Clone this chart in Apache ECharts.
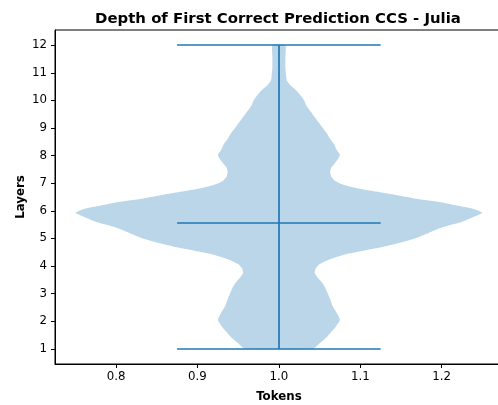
<!DOCTYPE html>
<html>
<head>
<meta charset="utf-8">
<script src="https://cdn.jsdelivr.net/npm/echarts@6/dist/echarts.min.js"></script>
<style>
  html, body { margin: 0; padding: 0; background: #fff; }
  #chart { width: 498px; height: 405px; }
</style>
</head>
<body>
<div id="chart"></div>
<script>
// Violin outline: layer positions and the half-width of the density at each one
const layerPositions = [
  1.0, 1.2, 1.4, 1.6, 1.8, 2.05, 2.3, 2.55, 2.8, 3.0, 3.2, 3.4, 3.6, 3.75, 3.9,
  4.05, 4.2, 4.3, 4.45, 4.6, 4.7, 4.82, 5.0, 5.2, 5.4, 5.6, 5.8, 5.93, 6.05,
  6.17, 6.32, 6.45, 6.55, 6.65, 6.75, 6.87, 6.99, 7.11, 7.25, 7.4, 7.55, 7.7,
  7.85, 8.02, 8.2, 8.4, 8.6, 8.8, 9.0, 9.2, 9.4, 9.6, 9.8, 10.0, 10.2, 10.4,
  10.55, 10.7, 10.85, 11.2, 11.6, 12.0
];
const halfWidths = [
  0.042, 0.050, 0.058, 0.064, 0.070, 0.075, 0.071, 0.066, 0.063, 0.060, 0.057,
  0.053, 0.047, 0.044, 0.045, 0.049, 0.059, 0.068, 0.086, 0.111, 0.129, 0.146,
  0.167, 0.184, 0.201, 0.225, 0.241, 0.250, 0.241, 0.222, 0.197, 0.166, 0.147,
  0.128, 0.108, 0.088, 0.075, 0.068, 0.064, 0.063, 0.064, 0.068, 0.072, 0.075,
  0.071, 0.068, 0.063, 0.059, 0.054, 0.049, 0.044, 0.039, 0.034, 0.031, 0.026,
  0.020, 0.014, 0.010, 0.009, 0.008, 0.008, 0.008
];
const violinCenter = 1.0;

// Summary statistics drawn as bars
const minLayer = 1;
const maxLayer = 12;
const meanLayer = 5.58;
const capHalfWidth = 0.125;

// Tick labels
const xTicks = [0.8, 0.9, 1.0, 1.1, 1.2];
const yTicks = [1, 2, 3, 4, 5, 6, 7, 8, 9, 10, 11, 12];

const BLUE = '#1f77b4';
const FONT = 'DejaVu Sans';

const chart = echarts.init(document.getElementById('chart'), null, { renderer: 'canvas' });

const statLines = [
  [[violinCenter, minLayer], [violinCenter, maxLayer]],
  [[violinCenter - capHalfWidth, minLayer], [violinCenter + capHalfWidth, minLayer]],
  [[violinCenter - capHalfWidth, maxLayer], [violinCenter + capHalfWidth, maxLayer]],
  [[violinCenter - capHalfWidth, meanLayer], [violinCenter + capHalfWidth, meanLayer]]
].map(c => ({ coords: c }));

chart.setOption({
  animation: false,
  backgroundColor: '#fff',
  title: {
    text: 'Depth of First Correct Prediction CCS - Julia',
    left: 273, top: 7, textAlign: 'center',
    textStyle: { fontFamily: FONT, fontWeight: 'bold', fontSize: 14.9, color: '#000' }
  },
  grid: {
    left: 55, top: 30, width: 447.8, height: 334,
    show: true, borderColor: '#000', borderWidth: 1, backgroundColor: 'transparent',
    containLabel: false, outerBoundsMode: 'none'
  },
  xAxis: {
    type: 'value', min: 0.725, max: 1.275,
    name: 'Tokens', nameLocation: 'middle', nameGap: 27, nameMoveOverlap: false,
    nameTextStyle: { fontFamily: FONT, fontWeight: 'bold', fontSize: 11.8, color: '#000' },
    axisLine: { show: true, onZero: false, lineStyle: { color: '#000', width: 1 } },
    axisTick: { show: true, length: 4, lineStyle: { color: '#000', width: 1 }, customValues: xTicks },
    axisLabel: {
      fontFamily: FONT, fontSize: 11.8, color: '#000', margin: 7,
      customValues: xTicks, formatter: v => v.toFixed(1)
    },
    splitLine: { show: false }
  },
  yAxis: {
    type: 'value', min: 0.45, max: 12.55,
    name: 'Layers', nameLocation: 'middle', nameGap: 28, nameRotate: 90, nameMoveOverlap: false,
    nameTextStyle: { fontFamily: FONT, fontWeight: 'bold', fontSize: 11.8, color: '#000' },
    axisLine: { show: true, onZero: false, lineStyle: { color: '#000', width: 1 } },
    axisTick: { show: true, length: 4, lineStyle: { color: '#000', width: 1 }, customValues: yTicks },
    axisLabel: {
      fontFamily: FONT, fontSize: 11.8, color: '#000', margin: 8,
      customValues: yTicks, formatter: v => String(v)
    },
    splitLine: { show: false }
  },
  series: [
    {
      type: 'custom',
      coordinateSystem: 'cartesian2d',
      data: [[violinCenter, meanLayer]],
      clip: true,
      renderItem: function (params, api) {
        const pts = [];
        for (let i = 0; i < layerPositions.length; i++) {
          pts.push(api.coord([violinCenter + halfWidths[i], layerPositions[i]]));
        }
        for (let i = layerPositions.length - 1; i >= 0; i--) {
          pts.push(api.coord([violinCenter - halfWidths[i], layerPositions[i]]));
        }
        return {
          type: 'polygon',
          shape: { points: pts, smooth: 0.15 },
          style: { fill: 'rgba(31,119,180,0.3)', stroke: null }
        };
      },
      z: 1
    },
    {
      type: 'lines',
      coordinateSystem: 'cartesian2d',
      data: statLines,
      lineStyle: { color: BLUE, width: 1.7, opacity: 1 },
      symbol: 'none',
      z: 2
    }
  ]
});
</script>
</body>
</html>
